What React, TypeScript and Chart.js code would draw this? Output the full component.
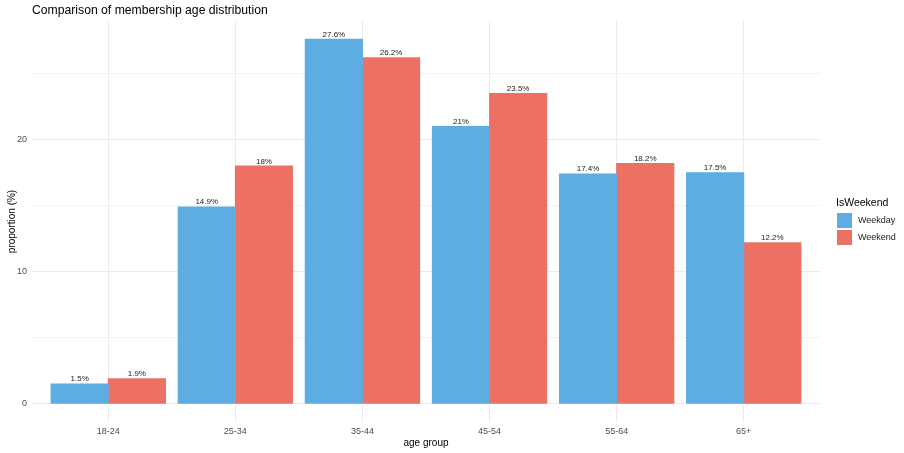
import React, { useEffect, useRef } from "react";
import { Chart, registerables } from "chart.js";

Chart.register(...registerables);

const categories = ["18-24", "25-34", "35-44", "45-54", "55-64", "65+"];
const weekdayValues = [1.5, 14.9, 27.6, 21, 17.4, 17.5];
const weekendValues = [1.9, 18, 26.2, 23.5, 18.2, 12.2];
const weekdayLabels = ["1.5%", "14.9%", "27.6%", "21%", "17.4%", "17.5%"];
const weekendLabels = ["1.9%", "18%", "26.2%", "23.5%", "18.2%", "12.2%"];
const seriesNames = ["Weekday", "Weekend"];
const yTicks = [0, 5, 10, 15, 20, 25];
const yTickLabels = ["0", "", "10", "", "20", ""];

const BLUE = "#5DADE2";
const RED = "#EC7063";
const FONT = "'Liberation Sans', Arial, sans-serif";

export default function App() {
  const ref = useRef<HTMLCanvasElement | null>(null);

  useEffect(() => {
    document.body.style.margin = "0";
    const canvas = ref.current;
    if (!canvas) return;

    const valueLabels = [weekdayLabels, weekendLabels];

    const labelPlugin = {
      id: "valueLabels",
      afterDatasetsDraw(chart: any) {
        const ctx = chart.ctx;
        ctx.save();
        ctx.font = `8px ${FONT}`;
        ctx.fillStyle = "#222222";
        ctx.textAlign = "center";
        ctx.textBaseline = "alphabetic";
        chart.data.datasets.forEach((_ds: any, di: number) => {
          const meta = chart.getDatasetMeta(di);
          meta.data.forEach((el: any, i: number) => {
            ctx.fillText(valueLabels[di][i], el.x, el.y - 2.5);
          });
        });
        ctx.restore();
      },
    };

    const decorPlugin = {
      id: "decor",
      afterDraw(chart: any) {
        const ctx = chart.ctx;
        ctx.save();
        // title
        ctx.font = `12.2px ${FONT}`;
        ctx.fillStyle = "#000000";
        ctx.textAlign = "left";
        ctx.textBaseline = "middle";
        ctx.fillText("Comparison of membership age distribution", 32, 11);
        // legend
        const lx = chart.chartArea.right + 17;
        ctx.font = `10.5px ${FONT}`;
        ctx.fillText("IsWeekend", lx - 1, 203);
        const colors = [BLUE, RED];
        ctx.font = `9px ${FONT}`;
        colors.forEach((c, i) => {
          const top = 213 + i * 17;
          ctx.fillStyle = c;
          ctx.fillRect(lx, top, 15, 15);
          ctx.fillStyle = "#222222";
          ctx.fillText(seriesNames[i], lx + 21, top + 8);
        });
        ctx.restore();
      },
    };

    const chart = new Chart(canvas, {
      type: "bar",
      data: {
        datasets: [
          {
            label: seriesNames[0],
            data: weekdayValues.map((v, i) => ({ x: i + 1, y: v })),
            backgroundColor: BLUE,
            borderWidth: 0,
            inflateAmount: 0.5,
          },
          {
            label: seriesNames[1],
            data: weekendValues.map((v, i) => ({ x: i + 1, y: v })),
            backgroundColor: RED,
            borderWidth: 0,
            inflateAmount: 0.5,
          },
        ],
      },
      options: {
        responsive: false,
        animation: false,
        devicePixelRatio: 1,
        layout: { padding: { top: 21, right: 84, left: 0, bottom: 0 } },
        datasets: {
          bar: { categoryPercentage: 0.9, barPercentage: 1.0 },
        },
        plugins: {
          legend: { display: false },
          title: { display: false },
          tooltip: { enabled: false },
        },
        scales: {
          x: {
            type: "linear",
            min: 0.4,
            max: 6.6,
            offset: false,
            afterBuildTicks(scale: any) {
              scale.ticks = categories.map((_c, i) => ({ value: i + 1 }));
            },
            afterFit(scale: any) {
              scale.height = 31;
            },
            ticks: {
              padding: 4,
              color: "#4D4D4D",
              font: { family: FONT, size: 9 },
              maxRotation: 0,
              autoSkip: false,
              callback: (v: any) => categories[Math.round(Number(v)) - 1] ?? "",
            },
            grid: { color: "#EBEBEB", lineWidth: 1, drawTicks: false, offset: false },
            border: { display: false },
            title: {
              display: true,
              text: "age group",
              color: "#000000",
              font: { family: FONT, size: 10 },
              padding: { top: 0, bottom: 4 },
            },
          },
          y: {
            type: "linear",
            min: -1.38,
            max: 28.98,
            afterBuildTicks(scale: any) {
              scale.ticks = yTicks.map((v) => ({ value: v }));
            },
            afterFit(scale: any) {
              scale.width = 32;
            },
            ticks: {
              padding: 5,
              color: "#4D4D4D",
              font: { family: FONT, size: 9 },
              callback: (v: any) => {
                const idx = yTicks.indexOf(Number(v));
                return idx >= 0 ? yTickLabels[idx] : "";
              },
            },
            grid: {
              color: "#EBEBEB",
              lineWidth: (c: any) => (c.tick && c.tick.value % 10 === 0 ? 1 : 0.6),
              drawTicks: false,
            },
            border: { display: false },
            title: {
              display: true,
              text: "proportion (%)",
              color: "#000000",
              font: { family: FONT, size: 10 },
              padding: { top: 6, bottom: 0 },
            },
          },
        },
      },
      plugins: [labelPlugin, decorPlugin],
    } as any);

    return () => {
      chart.destroy();
    };
  }, []);

  return (
    <div style={{ width: 904, height: 453, background: "#ffffff" }}>
      <canvas ref={ref} width={904} height={453} style={{ display: "block" }} />
    </div>
  );
}
